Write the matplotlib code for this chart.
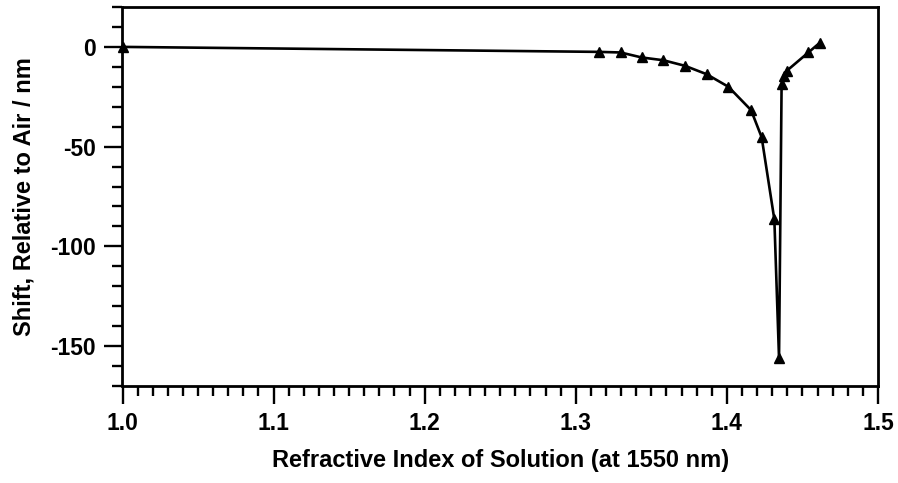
import matplotlib
matplotlib.use("Agg")
import matplotlib.pyplot as plt
from matplotlib.ticker import MultipleLocator

# Data
refractive_index = [1.0, 1.3154, 1.3297, 1.3436, 1.358, 1.3723, 1.3866, 1.401,
                    1.416, 1.423, 1.4314, 1.4345, 1.4362, 1.438, 1.4396,
                    1.4539, 1.4617]
shift_nm = [0.0, -2.5, -2.8, -5.3, -6.7, -9.5, -13.7, -20.0,
            -31.7, -45.3, -86.5, -156.0, -18.7, -14.5, -12.0,
            -2.8, 2.2]

x_label = "Refractive Index of Solution (at 1550 nm)"
y_label = "Shift, Relative to Air / nm"

plt.rcParams['font.family'] = ['Liberation Sans', 'DejaVu Sans']
plt.rcParams['font.weight'] = 'bold'

fig = plt.figure(figsize=(8.98, 4.83), dpi=100)
ax = fig.add_axes([122.5 / 898, 1 - 386 / 483, (878 - 122.5) / 898, (386 - 7) / 483])

ax.plot(refractive_index, shift_nm, color='black', lw=1.9, marker='^',
        markersize=6.5, markerfacecolor='black', markeredgecolor='black',
        clip_on=False, zorder=3)

ax.set_xlim(1.0, 1.5)
ax.set_ylim(-170, 20)
ax.xaxis.set_major_locator(MultipleLocator(0.1))
ax.xaxis.set_minor_locator(MultipleLocator(0.01))
ax.yaxis.set_major_locator(MultipleLocator(50))
ax.yaxis.set_minor_locator(MultipleLocator(10))
ax.xaxis.set_major_formatter(matplotlib.ticker.FormatStrFormatter('%.1f'))
ax.yaxis.set_major_formatter(matplotlib.ticker.FuncFormatter(lambda v, p: f"{int(v)}"))

for s in ax.spines.values():
    s.set_linewidth(2.0)

ax.tick_params(axis='both', which='major', direction='out', length=13, width=1.7,
               labelsize=16.5, pad=6)
ax.tick_params(axis='both', which='minor', direction='out', length=7, width=1.7)

for lab in ax.get_xticklabels() + ax.get_yticklabels():
    lab.set_fontweight('bold')

ax.set_xlabel(x_label, fontsize=17, fontweight='bold', labelpad=10)
ax.set_ylabel(y_label, fontsize=17, fontweight='bold', labelpad=11)

fig.savefig("out.png", dpi=100)
